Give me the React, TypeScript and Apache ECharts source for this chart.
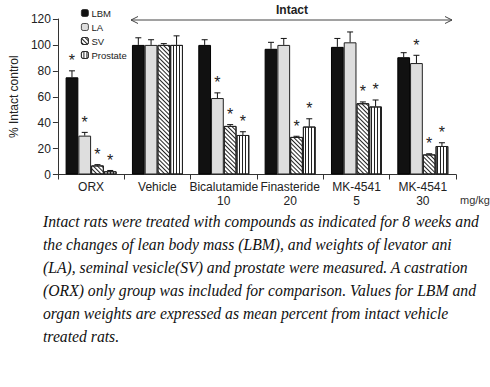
import React, { useEffect, useRef } from "react";
import * as echarts from "echarts";

const categories = ["ORX", "Vehicle", "Bicalutamide\n10", "Finasteride\n20", "MK-4541\n5", "MK-4541\n30"];
const seriesNames = ["LBM", "LA", "SV", "Prostate"];
const lbm = [75, 100, 100, 97, 98.5, 90.5];
const lbmErr = [5, 5.5, 4, 5, 6.5, 3.5];
const lbmSig = [1, 0, 0, 0, 0, 0];
const la = [30, 100, 59, 100, 102, 86];
const laErr = [2.5, 4, 4, 5, 8, 6];
const laSig = [1, 0, 1, 0, 0, 1];
const sv = [7, 100, 37.5, 29, 55, 15.5];
const svErr = [0.6, 1, 1, 0.5, 1, 0.5];
const svSig = [1, 0, 1, 1, 1, 1];
const prostate = [2.5, 100, 30.5, 37, 52.5, 22];
const prostateErr = [0.6, 7, 2.5, 6, 5, 2.5];
const prostateSig = [1, 0, 1, 1, 1, 1];
const yTicks = [0, 20, 40, 60, 80, 100, 120];

const captionLines = [
  "Intact rats were treated with compounds as indicated for 8 weeks and",
  "the changes of lean body mass (LBM), and weights of levator ani",
  "(LA), seminal vesicle(SV) and prostate were measured. A castration",
  "(ORX) only group was included for comparison. Values for LBM and",
  "organ weights are expressed as mean percent from intact vehicle",
  "treated rats.",
];

const BW = 12.75;

export default function App() {
  const ref = useRef<HTMLDivElement>(null);
  useEffect(() => {
    document.body.style.margin = "0";
    const chart = echarts.init(ref.current!, null, { renderer: "svg" });
    const values = [lbm, la, sv, prostate];
    const errs = [lbmErr, laErr, svErr, prostateErr];
    const sigs = [lbmSig, laSig, svSig, prostateSig];
    const styles: any[] = [
      { color: "#111", borderColor: "#000", borderWidth: 1 },
      { color: "#dedede", borderColor: "#222", borderWidth: 1 },
      {
        color: "#fff", borderColor: "#222", borderWidth: 1,
        decal: { symbol: "rect", symbolSize: 1, dashArrayX: [1, 0], dashArrayY: [1, 2], rotation: Math.PI / 4, color: "#222", backgroundColor: "#fff" },
      },
      {
        color: "#fff", borderColor: "#222", borderWidth: 1,
        decal: { symbol: "rect", symbolSize: 1, dashArrayX: [1, 0], dashArrayY: [1, 2], rotation: Math.PI / 2, color: "#222", backgroundColor: "#fff" },
      },
    ];
    const barSeries = seriesNames.map((name, k) => ({
      name,
      type: "bar",
      data: values[k],
      barWidth: BW,
      barGap: "0%",
      itemStyle: styles[k],
      z: 2,
    }));
    const errData: any[] = [];
    for (let k = 0; k < 4; k++) {
      for (let i = 0; i < categories.length; i++) {
        errData.push([i, values[k][i] + errs[k][i], values[k][i], k, sigs[k][i]]);
      }
    }
    const errSeries = {
      type: "custom",
      z: 5,
      silent: true,
      data: errData,
      encode: { x: 0, y: 1 },
      renderItem: (params: any, api: any) => {
        const cat = api.value(0);
        const top = api.value(1);
        const val = api.value(2);
        const k = api.value(3);
        const sig = api.value(4);
        const b = api.coord([cat, val]);
        const t = api.coord([cat, top]);
        const x = b[0] + (k - 1.5) * BW;
        const children: any[] = [
          { type: "line", shape: { x1: x, y1: b[1], x2: x, y2: t[1] }, style: { stroke: "#111", lineWidth: 1 } },
          { type: "line", shape: { x1: x - 3, y1: t[1], x2: x + 3, y2: t[1] }, style: { stroke: "#111", lineWidth: 1 } },
        ];
        if (sig) {
          children.push({
            type: "text",
            x: x,
            y: t[1] - 2,
            style: { text: "*", fontSize: 16, fontFamily: "Liberation Sans", fill: "#222", align: "center", verticalAlign: "bottom" },
          });
        }
        return { type: "group", children };
      },
    };

    const captionGraphics = captionLines.map((line, i) => ({
      type: "text",
      left: 43,
      top: 213 + i * 23,
      style: { text: line, font: "italic 15.7px 'Liberation Serif'", fill: "#111" },
    }));

    chart.setOption({
      animation: false,
      grid: { left: 50.7, right: 34, top: 19, bottom: 212.5 },
      legend: {
        orient: "vertical",
        left: 76,
        top: 3,
        itemWidth: 7,
        itemHeight: 7,
        itemGap: 4,
        data: seriesNames,
        textStyle: { fontSize: 9.5, fontFamily: "Liberation Sans", color: "#222", padding: [0, 0, 0, -2] },
        itemStyle: { borderColor: "#222", borderWidth: 0.8 },
      },
      xAxis: {
        type: "category",
        data: categories,
        axisLine: { lineStyle: { color: "#333", width: 1 } },
        axisTick: { show: true, length: 5, lineStyle: { color: "#333" } },
        axisLabel: { fontSize: 12, fontFamily: "Liberation Sans", color: "#222", margin: 5, lineHeight: 14, interval: 0 },
      },
      yAxis: {
        type: "value",
        min: yTicks[0],
        max: yTicks[yTicks.length - 1],
        interval: 20,
        name: "% Intact control",
        nameLocation: "middle",
        nameGap: 34,
        nameTextStyle: { fontSize: 12, fontFamily: "Liberation Sans", color: "#222" },
        splitLine: { show: false },
        axisLine: { show: true, lineStyle: { color: "#333", width: 1 } },
        axisTick: { show: true, length: 5, lineStyle: { color: "#333" } },
        axisLabel: { fontSize: 12, fontFamily: "Liberation Sans", color: "#222", margin: 7 },
      },
      graphic: [
        { type: "line", shape: { x1: 131, y1: 20, x2: 452, y2: 20 }, style: { stroke: "#444", lineWidth: 1 } },
        { type: "polyline", shape: { points: [[138, 16.5], [131, 20], [138, 23.5]] }, style: { stroke: "#444", lineWidth: 1, fill: "none" } },
        { type: "polyline", shape: { points: [[445, 16.5], [452, 20], [445, 23.5]] }, style: { stroke: "#444", lineWidth: 1, fill: "none" } },
        { type: "text", x: 292, y: 10, style: { text: "Intact", font: "bold 12px 'Liberation Sans'", fill: "#222", align: "center", verticalAlign: "middle" } },
        { type: "text", x: 460, y: 200, style: { text: "mg/kg", font: "11px 'Liberation Sans'", fill: "#333", align: "left", verticalAlign: "middle" } },
        ...captionGraphics,
      ],
      series: [...barSeries, errSeries],
    });
    return () => chart.dispose();
  }, []);
  return <div ref={ref} style={{ position: "absolute", left: 0, top: 0, width: 490, height: 387 }} />;
}
